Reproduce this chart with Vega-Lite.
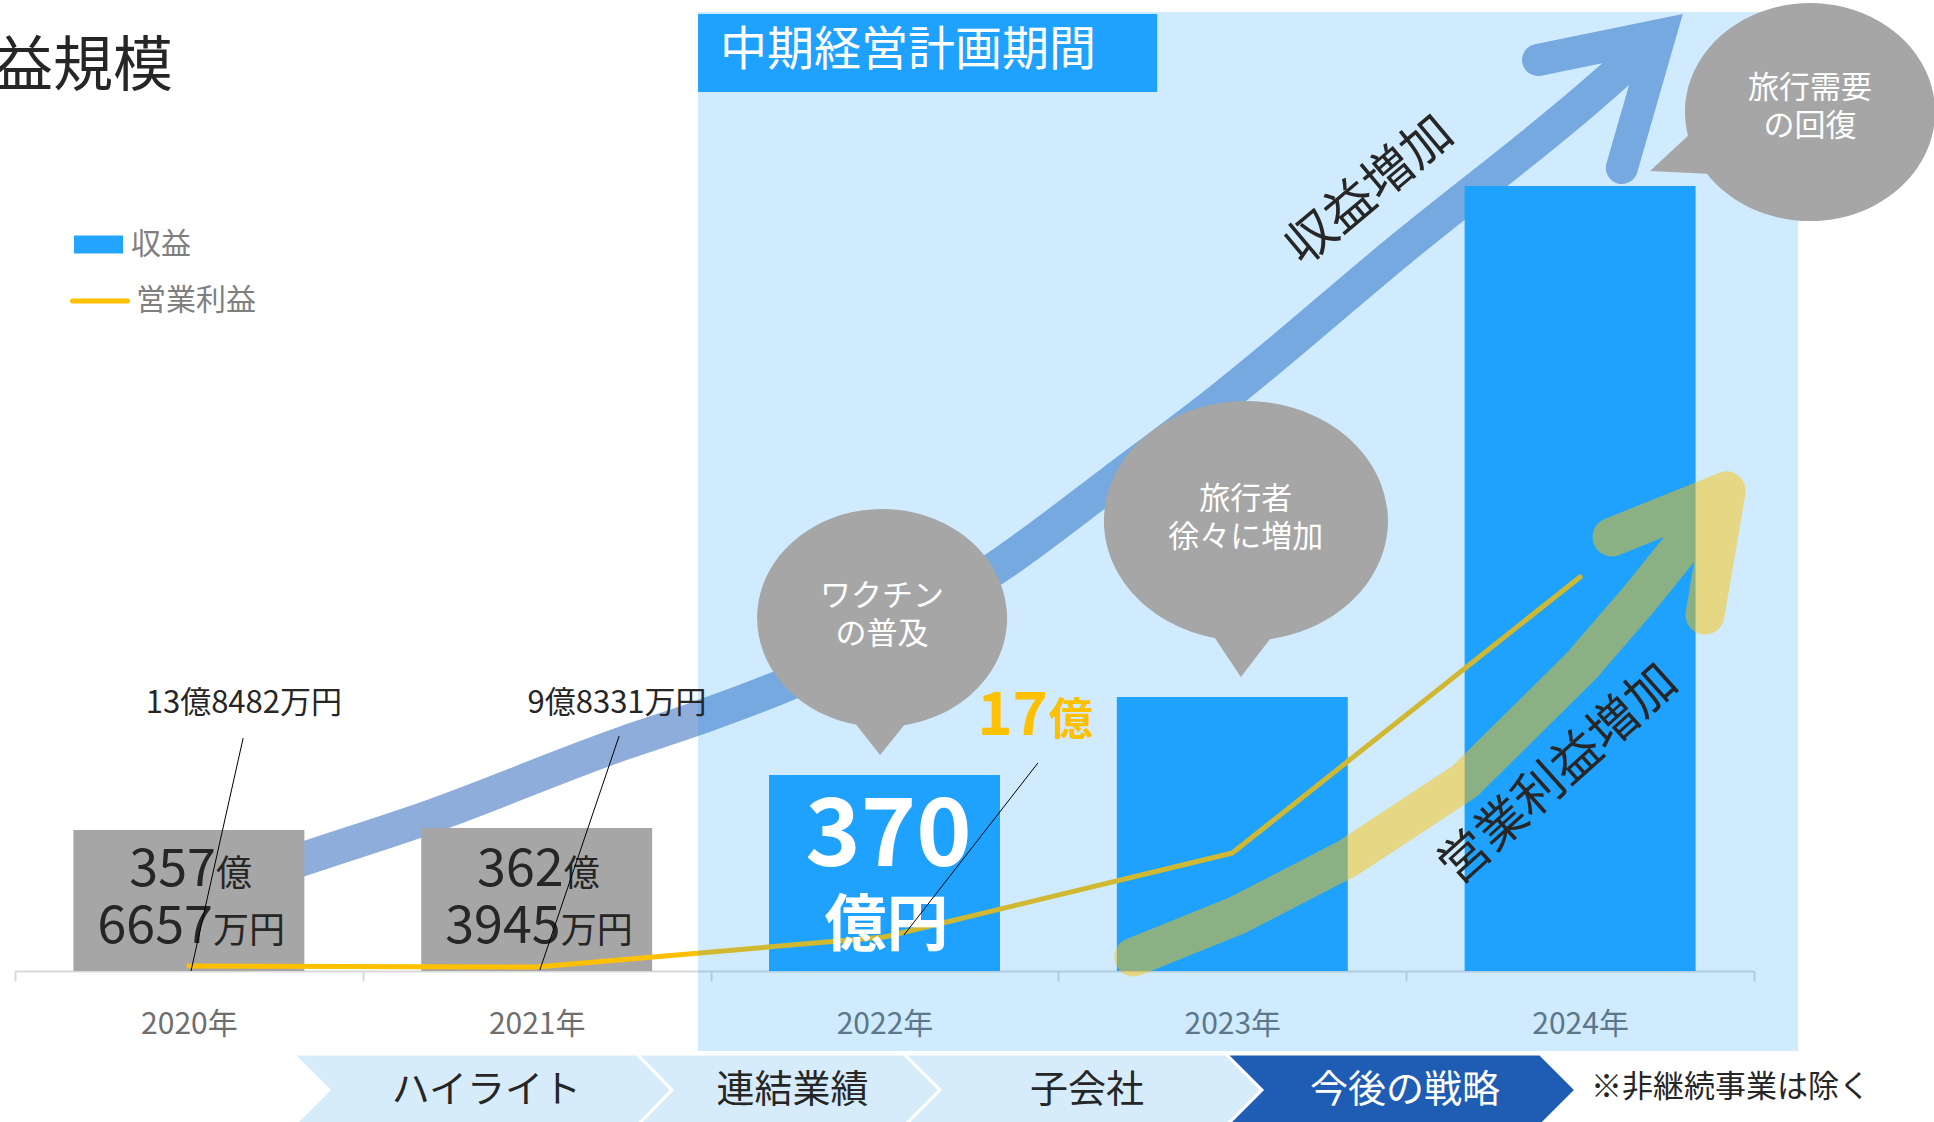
{
  "$schema": "https://vega.github.io/schema/vega-lite/v6.json",
  "width": 1739,
  "height": 971,
  "autosize": {"type": "none"},
  "padding": {"left": 15, "top": 0, "right": 180, "bottom": 151},
  "background": "#FFFFFF",
  "config": {"view": {"stroke": null}, "font": "Noto Sans CJK JP"},
  "resolve": {"scale": {"x": "independent"}},
  "datasets": {
    "main": [
      {"year": "2020年", "revenue": 141, "profit": 5, "phase": "中計前", "rev": "収益", "op": "営業利益"},
      {"year": "2021年", "revenue": 143, "profit": 4, "phase": "中計前", "rev": "収益", "op": "営業利益"},
      {"year": "2022年", "revenue": 196, "profit": 34, "phase": "中計", "rev": "収益", "op": "営業利益"},
      {"year": "2023年", "revenue": 274, "profit": 118, "phase": "中計", "rev": "収益", "op": "営業利益"},
      {"year": "2024年", "revenue": 785, "profit": 394, "phase": "中計", "rev": "収益", "op": "営業利益"}
    ],
    "graylabels": [
      {"year": "2020年", "num1": "357", "unit1": "億", "num2": "6657", "unit2": "万円"},
      {"year": "2021年", "num1": "362", "unit1": "億", "num2": "3945", "unit2": "万円"}
    ],
    "biglabel": [{"year": "2022年", "num": "370", "unit": "億円"}],
    "blueShaft": [
      {"i": 1, "px": 2020.176, "py": 94},
      {"i": 2, "px": 2020.337, "py": 113},
      {"i": 3, "px": 2020.667, "py": 151},
      {"i": 4, "px": 2021.251, "py": 228},
      {"i": 5, "px": 2021.464, "py": 253},
      {"i": 6, "px": 2021.748, "py": 291},
      {"i": 7, "px": 2022.341, "py": 408},
      {"i": 8, "px": 2022.654, "py": 489},
      {"i": 9, "px": 2022.965, "py": 571},
      {"i": 10, "px": 2023.482, "py": 721},
      {"i": 11, "px": 2024.017, "py": 871},
      {"i": 12, "px": 2024.230, "py": 936}
    ],
    "blueHead": [
      {"i": 1, "px": 2023.879, "py": 911},
      {"i": 2, "px": 2024.230, "py": 936},
      {"i": 3, "px": 2024.120, "py": 803}
    ],
    "yellowArrow": [
      {"i": 1, "px": 2022.717, "py": 14},
      {"i": 2, "px": 2023.016, "py": 56},
      {"i": 3, "px": 2023.333, "py": 113},
      {"i": 4, "px": 2023.669, "py": 190},
      {"i": 5, "px": 2024.006, "py": 306},
      {"i": 6, "px": 2024.172, "py": 373},
      {"i": 7, "px": 2024.420, "py": 480},
      {"i": 8, "px": 2024.092, "py": 434},
      {"i": 9, "px": 2024.420, "py": 480},
      {"i": 10, "px": 2024.359, "py": 356}
    ],
    "period": [{"start": 2021.464, "end": 2024.627, "top": 959, "bottom": -80}],
    "header": [{"start": 2021.464, "end": 2022.784, "top": 957, "bottom": 879, "px": 2021.527, "py": 920, "text": "中期経営計画期間"}],
    "bubbleTexts": [
      {"px": 2021.993, "py": 374, "text": ["ワクチン", "の普及"]},
      {"px": 2023.039, "py": 471, "text": ["旅行者", "徐々に増加"]},
      {"px": 2024.661, "py": 882, "text": ["旅行需要", "の回復"]}
    ],
    "leaders": [
      {"x1": 2020.156, "y1": 233, "x2": 2020.006, "y2": 0},
      {"x1": 2021.237, "y1": 235, "x2": 2021.009, "y2": 1},
      {"x1": 2022.441, "y1": 208, "x2": 2022.056, "y2": 36}
    ],
    "callouts": [
      {"px": 2020.158, "py": 267, "label": "13億8482万円"},
      {"px": 2021.231, "py": 267, "label": "9億8331万円"}
    ],
    "chevrons": [
      {"label": "ハイライト", "px": 2020.844},
      {"label": "連結業績", "px": 2021.724},
      {"label": "子会社", "px": 2022.571},
      {"label": "今後の戦略", "px": 2023.485}
    ]
  },
  "layer": [
    {
      "data": {"name": "blueShaft"},
      "mark": {"type": "line", "interpolate": "monotone", "strokeWidth": 34, "color": "#8EADDB", "strokeCap": "butt"},
      "encoding": {
        "x": {"field": "px", "type": "quantitative", "scale": {"domain": [2019.5, 2024.5], "nice": false, "zero": false}, "axis": null},
        "y": {"field": "py", "type": "quantitative", "scale": {"domain": [0, 971], "nice": false, "zero": false}, "axis": null},
        "order": {"field": "i"}
      }
    },
    {
      "data": {"name": "blueHead"},
      "mark": {"type": "line", "strokeWidth": 32, "color": "#8EADDB", "strokeCap": "round", "strokeJoin": "miter"},
      "encoding": {
        "x": {"field": "px", "type": "quantitative", "scale": {"domain": [2019.5, 2024.5], "nice": false, "zero": false}, "axis": null},
        "y": {"field": "py", "type": "quantitative", "scale": {"domain": [0, 971], "nice": false, "zero": false}, "axis": null},
        "order": {"field": "i"}
      }
    },
    {
      "data": {"name": "main"},
      "mark": {"type": "bar", "width": {"band": 0.664}},
      "encoding": {
        "x": {"field": "year", "type": "nominal", "sort": null,
          "scale": {"domain": ["2020年", "2021年", "2022年", "2023年", "2024年"], "paddingInner": 0, "paddingOuter": 0},
          "axis": {"title": null, "domainColor": "#D9D9D9", "domainWidth": 2, "tickColor": "#D9D9D9", "tickWidth": 2, "tickSize": 10, "tickBand": "extent", "labelFontSize": 30, "labelColor": "#6E6E6E", "labelPadding": 28, "labelAngle": 0, "grid": false}},
        "y": {"field": "revenue", "type": "quantitative", "scale": {"domain": [0, 971], "nice": false, "zero": false}, "axis": null},
        "fill": {
          "condition": {"test": "datum.phase === '中計前'", "value": "#A6A6A6"},
          "field": "rev", "type": "nominal", "scale": {"range": ["#22A4FF"]},
          "legend": {"orient": "none", "legendX": 59, "legendY": 220, "title": null, "padding": 0, "offset": 0,
            "symbolType": "M-1,-0.367H1V0.367H-1Z", "symbolSize": 2401, "symbolStrokeWidth": 0,
            "labelFontSize": 30, "labelColor": "#7F7F7F", "labelOffset": 8,
            "encode": {"symbols": {"update": {"fill": {"value": "#1FA2FF"}, "opacity": {"value": 1}}}}}
        }
      }
    },
    {
      "data": {"name": "graylabels"},
      "mark": {"type": "text", "align": "right", "baseline": "alphabetic", "dx": 27, "fontSize": 52, "color": "#262626"},
      "encoding": {
        "x": {"field": "year", "type": "nominal", "sort": null, "scale": {"domain": ["2020年", "2021年", "2022年", "2023年", "2024年"], "paddingInner": 0, "paddingOuter": 0}, "axis": null},
        "y": {"datum": 85, "type": "quantitative", "scale": {"domain": [0, 971], "nice": false, "zero": false}, "axis": null},
        "text": {"field": "num1"}
      }
    },
    {
      "data": {"name": "graylabels"},
      "mark": {"type": "text", "align": "left", "baseline": "alphabetic", "dx": 27, "fontSize": 36, "color": "#262626"},
      "encoding": {
        "x": {"field": "year", "type": "nominal", "sort": null, "scale": {"domain": ["2020年", "2021年", "2022年", "2023年", "2024年"], "paddingInner": 0, "paddingOuter": 0}, "axis": null},
        "y": {"datum": 85, "type": "quantitative", "scale": {"domain": [0, 971], "nice": false, "zero": false}, "axis": null},
        "text": {"field": "unit1"}
      }
    },
    {
      "data": {"name": "graylabels"},
      "mark": {"type": "text", "align": "right", "baseline": "alphabetic", "dx": 24, "fontSize": 52, "color": "#262626"},
      "encoding": {
        "x": {"field": "year", "type": "nominal", "sort": null, "scale": {"domain": ["2020年", "2021年", "2022年", "2023年", "2024年"], "paddingInner": 0, "paddingOuter": 0}, "axis": null},
        "y": {"datum": 28, "type": "quantitative", "scale": {"domain": [0, 971], "nice": false, "zero": false}, "axis": null},
        "text": {"field": "num2"}
      }
    },
    {
      "data": {"name": "graylabels"},
      "mark": {"type": "text", "align": "left", "baseline": "alphabetic", "dx": 24, "fontSize": 36, "color": "#262626"},
      "encoding": {
        "x": {"field": "year", "type": "nominal", "sort": null, "scale": {"domain": ["2020年", "2021年", "2022年", "2023年", "2024年"], "paddingInner": 0, "paddingOuter": 0}, "axis": null},
        "y": {"datum": 28, "type": "quantitative", "scale": {"domain": [0, 971], "nice": false, "zero": false}, "axis": null},
        "text": {"field": "unit2"}
      }
    },
    {
      "data": {"name": "main"},
      "mark": {"type": "line", "strokeWidth": 5, "strokeCap": "round", "strokeJoin": "round"},
      "encoding": {
        "x": {"field": "year", "type": "nominal", "sort": null, "scale": {"domain": ["2020年", "2021年", "2022年", "2023年", "2024年"], "paddingInner": 0, "paddingOuter": 0}, "axis": null},
        "y": {"field": "profit", "type": "quantitative", "scale": {"domain": [0, 971], "nice": false, "zero": false}, "axis": null},
        "stroke": {"field": "op", "type": "nominal", "scale": {"range": ["#FFC000"]},
          "legend": {"orient": "none", "legendX": 55, "legendY": 271, "title": null, "padding": 0, "offset": 0,
            "symbolType": "stroke", "symbolSize": 3025, "symbolStrokeWidth": 5,
            "labelFontSize": 30, "labelColor": "#7F7F7F", "labelOffset": 6,
            "encode": {"symbols": {"update": {"strokeCap": {"value": "round"}}}}}}
      }
    },
    {
      "data": {"name": "period"},
      "mark": {"type": "rect", "fill": "#149BF5", "opacity": 0.2},
      "encoding": {
        "x": {"field": "start", "type": "quantitative", "scale": {"domain": [2019.5, 2024.5], "nice": false, "zero": false}, "axis": null},
        "x2": {"field": "end"},
        "y": {"field": "top", "type": "quantitative", "scale": {"domain": [0, 971], "nice": false, "zero": false}, "axis": null},
        "y2": {"field": "bottom"}
      }
    },
    {
      "data": {"name": "yellowArrow"},
      "mark": {"type": "line", "strokeWidth": 39, "color": "#FFC000", "opacity": 0.48, "strokeCap": "round", "strokeJoin": "round"},
      "encoding": {
        "x": {"field": "px", "type": "quantitative", "scale": {"domain": [2019.5, 2024.5], "nice": false, "zero": false}, "axis": null},
        "y": {"field": "py", "type": "quantitative", "scale": {"domain": [0, 971], "nice": false, "zero": false}, "axis": null},
        "order": {"field": "i"}
      }
    },
    {
      "data": {"values": [{"px": 2021.993, "py": 353}]},
      "mark": {"type": "point", "shape": "M -26 106.6 A 125 109 0 1 1 22 107.3 L -2 137 Z", "size": 4, "filled": true, "color": "#A6A6A6", "opacity": 1, "strokeWidth": 0},
      "encoding": {
        "x": {"field": "px", "type": "quantitative", "scale": {"domain": [2019.5, 2024.5], "nice": false, "zero": false}, "axis": null},
        "y": {"field": "py", "type": "quantitative", "scale": {"domain": [0, 971], "nice": false, "zero": false}, "axis": null}
      }
    },
    {
      "data": {"values": [{"px": 2023.039, "py": 450}]},
      "mark": {"type": "point", "shape": "M -31 117.1 A 142 120 0 1 1 24 118.3 L -5 156 Z", "size": 4, "filled": true, "color": "#A6A6A6", "opacity": 1, "strokeWidth": 0},
      "encoding": {
        "x": {"field": "px", "type": "quantitative", "scale": {"domain": [2019.5, 2024.5], "nice": false, "zero": false}, "axis": null},
        "y": {"field": "py", "type": "quantitative", "scale": {"domain": [0, 971], "nice": false, "zero": false}, "axis": null}
      }
    },
    {
      "data": {"values": [{"px": 2024.661, "py": 859}]},
      "mark": {"type": "point", "shape": "M -122 23.7 L -160 59 L -103 61.8 A 125 109 0 1 0 -122 23.7 Z", "size": 4, "filled": true, "color": "#A6A6A6", "opacity": 1, "strokeWidth": 0},
      "encoding": {
        "x": {"field": "px", "type": "quantitative", "scale": {"domain": [2019.5, 2024.5], "nice": false, "zero": false}, "axis": null},
        "y": {"field": "py", "type": "quantitative", "scale": {"domain": [0, 971], "nice": false, "zero": false}, "axis": null}
      }
    },
    {
      "data": {"name": "bubbleTexts"},
      "mark": {"type": "text", "align": "center", "baseline": "middle", "fontSize": 31, "lineHeight": 38, "color": "#FFFFFF"},
      "encoding": {
        "x": {"field": "px", "type": "quantitative", "scale": {"domain": [2019.5, 2024.5], "nice": false, "zero": false}, "axis": null},
        "y": {"field": "py", "type": "quantitative", "scale": {"domain": [0, 971], "nice": false, "zero": false}, "axis": null},
        "text": {"field": "text"}
      }
    },
    {
      "data": {"name": "header"},
      "mark": {"type": "rect", "fill": "#1FA2FF"},
      "encoding": {
        "x": {"field": "start", "type": "quantitative", "scale": {"domain": [2019.5, 2024.5], "nice": false, "zero": false}, "axis": null},
        "x2": {"field": "end"},
        "y": {"field": "top", "type": "quantitative", "scale": {"domain": [0, 971], "nice": false, "zero": false}, "axis": null},
        "y2": {"field": "bottom"}
      }
    },
    {
      "data": {"name": "header"},
      "mark": {"type": "text", "align": "left", "baseline": "middle", "fontSize": 47, "color": "#FFFFFF"},
      "encoding": {
        "x": {"field": "px", "type": "quantitative", "scale": {"domain": [2019.5, 2024.5], "nice": false, "zero": false}, "axis": null},
        "y": {"field": "py", "type": "quantitative", "scale": {"domain": [0, 971], "nice": false, "zero": false}, "axis": null},
        "text": {"field": "text"}
      }
    },
    {
      "data": {"name": "biglabel"},
      "mark": {"type": "text", "align": "center", "baseline": "alphabetic", "dx": 4, "fontSize": 94, "fontWeight": "bold", "color": "#FFFFFF"},
      "encoding": {
        "x": {"field": "year", "type": "nominal", "sort": null, "scale": {"domain": ["2020年", "2021年", "2022年", "2023年", "2024年"], "paddingInner": 0, "paddingOuter": 0}, "axis": null},
        "y": {"datum": 105, "type": "quantitative", "scale": {"domain": [0, 971], "nice": false, "zero": false}, "axis": null},
        "text": {"field": "num"}
      }
    },
    {
      "data": {"name": "biglabel"},
      "mark": {"type": "text", "align": "center", "baseline": "alphabetic", "dx": 2, "fontSize": 62, "fontWeight": "bold", "color": "#FFFFFF"},
      "encoding": {
        "x": {"field": "year", "type": "nominal", "sort": null, "scale": {"domain": ["2020年", "2021年", "2022年", "2023年", "2024年"], "paddingInner": 0, "paddingOuter": 0}, "axis": null},
        "y": {"datum": 25, "type": "quantitative", "scale": {"domain": [0, 971], "nice": false, "zero": false}, "axis": null},
        "text": {"field": "unit"}
      }
    },
    {
      "data": {"values": [{"px": 2022.470, "py": 236, "num": "17", "unit": "億"}]},
      "mark": {"type": "text", "align": "right", "baseline": "alphabetic", "fontSize": 60, "fontWeight": "bold", "color": "#FFC000"},
      "encoding": {
        "x": {"field": "px", "type": "quantitative", "scale": {"domain": [2019.5, 2024.5], "nice": false, "zero": false}, "axis": null},
        "y": {"field": "py", "type": "quantitative", "scale": {"domain": [0, 971], "nice": false, "zero": false}, "axis": null},
        "text": {"field": "num"}
      }
    },
    {
      "data": {"values": [{"px": 2022.470, "py": 236, "num": "17", "unit": "億"}]},
      "mark": {"type": "text", "align": "left", "baseline": "alphabetic", "dx": 1, "fontSize": 44, "fontWeight": "bold", "color": "#FFC000"},
      "encoding": {
        "x": {"field": "px", "type": "quantitative", "scale": {"domain": [2019.5, 2024.5], "nice": false, "zero": false}, "axis": null},
        "y": {"field": "py", "type": "quantitative", "scale": {"domain": [0, 971], "nice": false, "zero": false}, "axis": null},
        "text": {"field": "unit"}
      }
    },
    {
      "data": {"name": "leaders"},
      "mark": {"type": "rule", "color": "#000000", "strokeWidth": 1},
      "encoding": {
        "x": {"field": "x1", "type": "quantitative", "scale": {"domain": [2019.5, 2024.5], "nice": false, "zero": false}, "axis": null},
        "x2": {"field": "x2"},
        "y": {"field": "y1", "type": "quantitative", "scale": {"domain": [0, 971], "nice": false, "zero": false}, "axis": null},
        "y2": {"field": "y2"}
      }
    },
    {
      "data": {"name": "callouts"},
      "mark": {"type": "text", "align": "center", "baseline": "middle", "fontSize": 31, "color": "#262626"},
      "encoding": {
        "x": {"field": "px", "type": "quantitative", "scale": {"domain": [2019.5, 2024.5], "nice": false, "zero": false}, "axis": null},
        "y": {"field": "py", "type": "quantitative", "scale": {"domain": [0, 971], "nice": false, "zero": false}, "axis": null},
        "text": {"field": "label"}
      }
    },
    {
      "data": {"values": [{"px": 2023.396, "py": 780, "text": "収益増加"}]},
      "mark": {"type": "text", "align": "center", "baseline": "middle", "fontSize": 50, "angle": 320, "color": "#262626"},
      "encoding": {
        "x": {"field": "px", "type": "quantitative", "scale": {"domain": [2019.5, 2024.5], "nice": false, "zero": false}, "axis": null},
        "y": {"field": "py", "type": "quantitative", "scale": {"domain": [0, 971], "nice": false, "zero": false}, "axis": null},
        "text": {"field": "text"}
      }
    },
    {
      "data": {"values": [{"px": 2023.939, "py": 196, "text": "営業利益増加"}]},
      "mark": {"type": "text", "align": "center", "baseline": "middle", "fontSize": 50, "angle": 318, "color": "#262626"},
      "encoding": {
        "x": {"field": "px", "type": "quantitative", "scale": {"domain": [2019.5, 2024.5], "nice": false, "zero": false}, "axis": null},
        "y": {"field": "py", "type": "quantitative", "scale": {"domain": [0, 971], "nice": false, "zero": false}, "axis": null},
        "text": {"field": "text"}
      }
    },
    {
      "data": {"values": [{"px": 2019.954, "py": 903, "text": "収益規模"}]},
      "mark": {"type": "text", "align": "right", "baseline": "middle", "fontSize": 60, "color": "#262626"},
      "encoding": {
        "x": {"field": "px", "type": "quantitative", "scale": {"domain": [2019.5, 2024.5], "nice": false, "zero": false}, "axis": null},
        "y": {"field": "py", "type": "quantitative", "scale": {"domain": [0, 971], "nice": false, "zero": false}, "axis": null},
        "text": {"field": "text"}
      }
    },
    {
      "data": {"name": "chevrons"},
      "mark": {"type": "point", "size": 4, "filled": true, "opacity": 1, "stroke": "#FFFFFF", "strokeWidth": 3},
      "encoding": {
        "x": {"field": "px", "type": "quantitative", "scale": {"domain": [2019.5, 2024.5], "nice": false, "zero": false}, "axis": null},
        "y": {"datum": -119, "type": "quantitative", "scale": {"domain": [0, 971], "nice": false, "zero": false}, "axis": null},
        "shape": {"field": "label", "type": "nominal", "legend": null,
          "scale": {"domain": ["ハイライト", "連結業績", "子会社", "今後の戦略"],
            "range": [
              "M -189.5 -36 L 154.5 -36 L 189.5 0 L 154.5 36 L -189.5 36 L -153.5 0 Z",
              "M -151.5 -36 L 115.5 -36 L 151.5 0 L 115.5 36 L -151.5 36 L -116.5 0 Z",
              "M -179 -36 L 143 -36 L 179 0 L 143 36 L -179 36 L -143 0 Z",
              "M -175 -36 L 139 -36 L 175 0 L 139 36 L -175 36 L -139 0 Z"]}},
        "fill": {"condition": {"test": "datum.label === '今後の戦略'", "value": "#1F5CB4"}, "value": "#D6ECFB"}
      }
    },
    {
      "data": {"name": "chevrons"},
      "mark": {"type": "text", "align": "center", "baseline": "middle", "fontSize": 38, "dx": 4},
      "encoding": {
        "x": {"field": "px", "type": "quantitative", "scale": {"domain": [2019.5, 2024.5], "nice": false, "zero": false}, "axis": null},
        "y": {"datum": -120, "type": "quantitative", "scale": {"domain": [0, 971], "nice": false, "zero": false}, "axis": null},
        "text": {"field": "label"},
        "color": {"condition": {"test": "datum.label === '今後の戦略'", "value": "#FFFFFF"}, "value": "#262626"}
      }
    },
    {
      "data": {"values": [{"px": 2024.031, "text": "※非継続事業は除く"}]},
      "mark": {"type": "text", "align": "left", "baseline": "middle", "fontSize": 31, "color": "#262626"},
      "encoding": {
        "x": {"field": "px", "type": "quantitative", "scale": {"domain": [2019.5, 2024.5], "nice": false, "zero": false}, "axis": null},
        "y": {"datum": -117, "type": "quantitative", "scale": {"domain": [0, 971], "nice": false, "zero": false}, "axis": null},
        "text": {"field": "text"}
      }
    }
  ]
}
